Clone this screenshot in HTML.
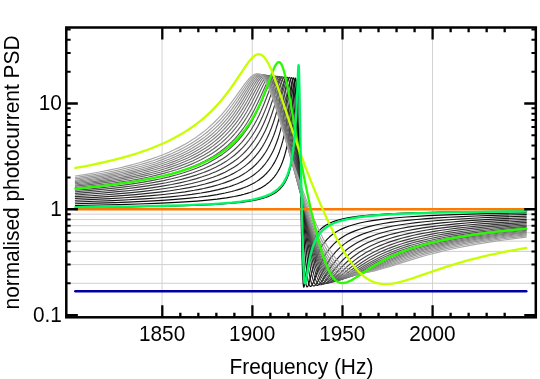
<!DOCTYPE html>
<html><head><meta charset="utf-8"><title>chart</title>
<style>html,body{margin:0;padding:0;background:#fff;}body{width:540px;height:379px;overflow:hidden;font-family:"Liberation Sans",sans-serif;}</style>
</head><body>
<svg width="540" height="379" viewBox="0 0 540 379" style="display:block">
<rect width="540" height="379" fill="#fff"/>
<defs><filter id="soft" x="0" y="0" width="540" height="379" filterUnits="userSpaceOnUse" color-interpolation-filters="sRGB"><feGaussianBlur stdDeviation="0.36"/></filter></defs>
<g filter="url(#soft)">
<rect width="540" height="379" fill="#fff"/>
<line x1="162.05" x2="162.05" y1="27.5" y2="317.3" stroke="#d2d2d2" stroke-width="1"/>
<line x1="252.22" x2="252.22" y1="27.5" y2="317.3" stroke="#d2d2d2" stroke-width="1"/>
<line x1="342.38" x2="342.38" y1="27.5" y2="317.3" stroke="#d2d2d2" stroke-width="1"/>
<line x1="432.55" x2="432.55" y1="27.5" y2="317.3" stroke="#d2d2d2" stroke-width="1"/>
<line x1="66.3" x2="535.8" y1="283.25" y2="283.25" stroke="#cfcfcf" stroke-width="1"/>
<line x1="66.3" x2="535.8" y1="264.62" y2="264.62" stroke="#cfcfcf" stroke-width="1"/>
<line x1="66.3" x2="535.8" y1="251.40" y2="251.40" stroke="#cfcfcf" stroke-width="1"/>
<line x1="66.3" x2="535.8" y1="241.15" y2="241.15" stroke="#cfcfcf" stroke-width="1"/>
<line x1="66.3" x2="535.8" y1="232.77" y2="232.77" stroke="#cfcfcf" stroke-width="1"/>
<line x1="66.3" x2="535.8" y1="225.69" y2="225.69" stroke="#cfcfcf" stroke-width="1"/>
<line x1="66.3" x2="535.8" y1="219.55" y2="219.55" stroke="#cfcfcf" stroke-width="1"/>
<line x1="66.3" x2="535.8" y1="214.14" y2="214.14" stroke="#cfcfcf" stroke-width="1"/>
<g fill="none" stroke-linejoin="round" stroke-linecap="round">
<path d="M75.40,207.41 127.50,206.86 148.88,206.53 167.58,206.14 183.61,205.72 198.31,205.21 211.67,204.60 222.36,203.97 231.71,203.25 240.73,202.34 248.18,201.35 254.74,200.22 257.70,199.59 260.44,198.93 263.07,198.20 265.47,197.44 267.77,196.60 269.85,195.74 271.82,194.80 273.69,193.80 275.33,192.78 276.97,191.62 278.50,190.39 279.93,189.07 281.24,187.69 282.44,186.24 283.54,184.74 284.63,183.04 285.62,181.29 286.60,179.29 287.48,177.26 288.25,175.24 289.01,172.95 289.78,170.34 290.44,167.79 291.09,164.88 292.19,159.02 293.17,152.27 294.05,144.60 294.82,136.06 295.47,126.89 296.02,117.56 297.66,82.21 297.88,79.26 297.99,78.49 298.10,78.31 298.21,78.80 298.32,80.03 298.43,82.01 298.87,96.90 300.84,203.61 301.49,234.88 302.04,256.87 302.48,270.64 302.92,280.22 303.14,283.38 303.36,285.52 303.57,286.73 303.68,287.04 303.79,287.16 303.90,287.13 304.12,286.65 304.56,284.48 307.08,265.36 307.95,259.89 308.94,254.73 310.03,250.02 311.13,246.14 312.44,242.33 313.87,238.98 314.74,237.23 315.62,235.68 316.49,234.28 317.48,232.87 318.46,231.61 319.56,230.36 320.76,229.14 321.97,228.05 323.28,226.98 324.71,225.96 326.13,225.05 327.66,224.17 329.30,223.33 331.06,222.53 334.78,221.11 339.16,219.78 343.97,218.62 349.34,217.60 355.47,216.67 362.37,215.85 370.03,215.12 378.68,214.47 388.48,213.89 399.65,213.37 411.75,212.92 425.72,212.51 441.54,212.15 478.78,211.54 526.25,211.06" stroke="rgb(0,0,0)" stroke-width="1.15"/>
<path d="M75.40,205.46 98.11,205.05 119.49,204.56 138.19,204.02 155.56,203.40 171.59,202.68 184.95,201.93 196.97,201.08 207.66,200.15 217.01,199.13 226.36,197.85 234.38,196.47 240.84,195.08 244.01,194.28 247.08,193.42 249.93,192.52 252.66,191.56 255.18,190.57 257.59,189.52 259.89,188.39 262.08,187.19 264.05,185.99 266.02,184.65 267.77,183.32 269.52,181.84 271.17,180.29 272.70,178.68 274.12,177.02 275.55,175.16 276.86,173.25 278.06,171.30 279.27,169.12 280.36,166.92 281.46,164.47 282.44,162.00 283.43,159.25 284.31,156.54 285.84,151.01 287.26,144.76 288.47,138.37 289.67,130.68 290.76,122.25 291.75,113.25 294.49,83.38 295.03,79.31 295.25,78.41 295.36,78.17 295.47,78.08 295.58,78.14 295.69,78.38 295.91,79.38 296.24,82.25 296.68,88.58 297.12,97.35 297.77,113.58 299.85,171.25 301.06,202.71 302.26,231.20 303.36,253.48 304.23,267.78 304.67,273.48 305.11,278.13 305.55,281.72 305.98,284.29 306.42,285.92 306.64,286.41 306.97,286.81 307.30,286.83 307.52,286.67 307.74,286.38 308.17,285.50 308.72,283.96 309.60,280.88 311.90,271.86 313.21,267.05 314.74,262.06 316.28,257.73 317.81,253.97 319.45,250.50 321.20,247.30 323.17,244.23 324.38,242.58 325.58,241.07 326.79,239.69 328.10,238.31 329.41,237.05 330.84,235.80 332.37,234.57 333.90,233.45 335.54,232.35 337.30,231.28 340.91,229.36 344.85,227.61 349.23,225.99 354.27,224.44 359.74,223.06 365.76,221.79 372.33,220.65 379.56,219.62 387.55,218.67 396.86,217.76 406.17,217.01 416.41,216.32 428.51,215.65 440.61,215.10 454.57,214.56 470.40,214.07 487.15,213.63 526.25,212.86" stroke="rgb(8,8,8)" stroke-width="1.15"/>
<path d="M75.40,203.75 96.78,203.19 115.48,202.59 132.85,201.91 148.88,201.15 162.24,200.37 175.60,199.43 187.62,198.40 198.31,197.27 207.66,196.07 217.01,194.61 225.03,193.06 231.71,191.49 235.15,190.56 238.32,189.61 241.39,188.59 244.23,187.55 246.97,186.44 249.60,185.26 252.12,184.02 254.53,182.70 256.72,181.37 258.80,179.98 260.77,178.53 262.63,177.02 264.38,175.46 266.13,173.74 267.77,171.97 269.31,170.14 270.73,168.28 272.15,166.23 273.47,164.15 274.78,161.87 275.98,159.56 277.19,157.02 278.28,154.47 279.38,151.68 281.13,146.57 282.77,140.93 284.31,134.71 285.73,127.92 287.04,120.60 288.36,112.11 289.56,103.28 291.53,87.69 292.19,83.07 292.63,80.55 292.95,79.12 293.28,78.19 293.50,77.90 293.61,77.86 293.83,78.02 293.94,78.22 294.16,78.88 294.38,79.88 294.71,82.06 295.25,87.39 295.91,96.23 297.01,114.95 299.96,171.61 301.71,203.14 303.47,231.62 305.00,253.05 305.65,260.89 306.31,267.75 306.97,273.55 307.52,277.53 308.17,281.26 308.83,283.90 309.16,284.84 309.49,285.55 309.82,286.03 310.14,286.32 310.36,286.41 310.69,286.41 311.02,286.26 311.35,285.97 312.01,285.07 312.77,283.60 313.98,280.72 317.26,271.90 319.12,267.20 321.09,262.72 323.06,258.76 324.92,255.45 326.79,252.52 328.76,249.76 330.95,247.06 333.68,244.13 336.53,241.52 339.70,239.01 343.10,236.73 346.82,234.58 350.76,232.64 355.03,230.85 359.63,229.20 364.89,227.59 370.58,226.11 376.71,224.77 383.39,223.52 390.34,222.42 398.72,221.30 407.10,220.35 416.41,219.46 426.65,218.63 436.89,217.92 448.99,217.21 462.02,216.56 475.98,215.97 491.81,215.41 526.25,214.45" stroke="rgb(16,16,16)" stroke-width="1.15"/>
<path d="M75.40,201.99 95.44,201.30 112.81,200.58 128.84,199.78 143.53,198.91 156.89,197.96 170.25,196.82 180.94,195.72 191.63,194.41 200.98,193.03 206.32,192.12 210.33,191.36 218.35,189.63 225.03,187.90 229.04,186.71 231.71,185.84 234.60,184.82 237.45,183.72 240.18,182.57 242.81,181.36 245.33,180.09 247.74,178.77 250.04,177.38 252.23,175.95 254.31,174.46 256.28,172.91 258.14,171.33 260.00,169.60 261.75,167.82 263.39,166.00 265.04,164.02 266.57,162.00 267.99,159.95 269.42,157.73 270.73,155.49 272.04,153.05 273.36,150.39 274.56,147.72 276.53,142.81 278.39,137.44 280.14,131.57 281.79,125.22 283.32,118.42 284.85,110.68 286.28,102.65 288.68,88.13 289.67,82.81 290.22,80.42 290.66,78.95 291.09,77.99 291.31,77.74 291.53,77.65 291.75,77.73 291.97,78.01 292.30,78.79 292.63,80.02 293.06,82.38 293.83,88.38 294.60,96.42 295.91,113.41 299.85,170.67 302.15,202.07 304.45,230.45 305.55,242.58 306.53,252.50 307.41,260.40 308.17,266.51 309.05,272.47 309.82,276.76 310.58,280.16 311.46,283.01 311.90,284.04 312.33,284.83 312.77,285.39 313.21,285.75 313.54,285.89 313.87,285.93 314.19,285.88 314.63,285.69 315.07,285.38 315.51,284.95 316.38,283.82 317.26,282.41 318.36,280.41 322.52,272.02 324.49,268.22 326.35,264.88 328.21,261.81 330.62,258.22 333.03,255.03 335.65,251.94 338.39,249.11 341.35,246.43 344.52,243.90 347.92,241.54 351.53,239.35 355.36,237.32 359.52,235.39 364.01,233.59 368.72,231.94 374.19,230.28 380.00,228.77 386.35,227.34 393.14,226.02 400.58,224.78 408.03,223.70 416.41,222.66 424.78,221.75 435.02,220.79 445.26,219.97 456.43,219.20 468.54,218.47 481.57,217.80 495.53,217.18 526.25,216.08" stroke="rgb(24,24,24)" stroke-width="1.15"/>
<path d="M75.40,200.21 94.10,199.41 110.14,198.60 124.83,197.72 139.53,196.69 151.55,195.69 163.57,194.52 174.26,193.28 184.95,191.82 194.30,190.30 199.64,189.31 203.65,188.49 211.67,186.63 218.35,184.81 222.36,183.56 225.03,182.66 230.37,180.64 233.04,179.52 236.24,178.05 238.98,176.67 241.61,175.22 243.91,173.85 246.20,172.36 248.28,170.90 250.36,169.32 252.34,167.70 254.20,166.04 256.06,164.25 257.81,162.42 259.56,160.44 261.20,158.43 262.74,156.39 264.27,154.19 265.69,151.98 267.12,149.59 268.43,147.21 269.74,144.63 271.82,140.09 273.79,135.20 275.66,129.95 277.52,123.98 279.38,117.19 281.13,109.96 282.77,102.47 285.84,87.59 286.93,82.83 287.59,80.46 288.25,78.66 288.79,77.73 289.12,77.47 289.34,77.43 289.67,77.59 289.89,77.85 290.33,78.76 290.76,80.19 291.20,82.14 291.64,84.62 292.19,88.38 293.17,96.78 294.82,113.99 299.52,169.01 302.37,200.33 303.79,214.92 305.22,228.67 306.53,240.44 307.74,250.32 308.83,258.41 309.82,264.85 310.91,271.00 311.90,275.57 312.88,279.20 313.87,281.93 314.41,283.07 314.96,283.96 315.51,284.62 316.06,285.06 316.49,285.28 317.04,285.38 317.48,285.35 318.03,285.17 318.57,284.87 319.12,284.46 320.33,283.22 321.53,281.67 322.84,279.74 327.88,271.67 330.18,268.13 332.26,265.13 334.34,262.35 336.97,259.12 339.70,256.10 342.55,253.28 345.62,250.56 348.79,248.06 352.19,245.68 355.69,243.50 359.41,241.44 363.35,239.51 367.62,237.65 372.11,235.92 376.82,234.32 381.97,232.77 387.55,231.29 394.07,229.77 400.58,228.45 408.03,227.13 415.48,225.97 423.85,224.84 432.23,223.85 441.54,222.88 451.78,221.95 462.02,221.14 473.19,220.37 485.29,219.63 498.32,218.94 526.25,217.72" stroke="rgb(32,32,32)" stroke-width="1.15"/>
<path d="M75.40,198.43 91.43,197.62 107.46,196.67 122.16,195.65 135.52,194.57 147.54,193.44 159.57,192.11 170.25,190.72 179.61,189.30 188.96,187.64 196.97,185.98 204.99,184.04 211.67,182.16 218.35,179.97 222.36,178.48 225.03,177.39 227.70,176.23 230.37,174.98 233.04,173.63 235.91,172.05 238.32,170.62 240.62,169.15 242.81,167.63 244.89,166.09 246.97,164.42 248.94,162.72 250.80,160.99 252.66,159.14 254.42,157.25 256.17,155.22 257.81,153.17 259.34,151.12 260.88,148.91 262.30,146.71 263.72,144.34 265.15,141.80 267.34,137.50 269.42,132.90 271.39,128.01 273.36,122.52 275.44,116.01 277.41,109.10 279.27,101.93 282.77,87.64 284.20,82.44 284.96,80.15 285.73,78.42 286.06,77.88 286.39,77.50 286.71,77.27 287.04,77.22 287.37,77.35 287.59,77.54 288.14,78.42 288.68,79.87 289.23,81.90 289.78,84.49 290.33,87.61 291.53,96.09 292.41,103.35 293.50,113.29 299.09,167.87 302.48,199.13 304.23,214.16 305.87,227.42 307.41,238.95 308.94,249.49 310.25,257.60 311.46,264.18 312.66,269.87 313.87,274.60 315.07,278.37 315.62,279.77 316.28,281.20 316.82,282.19 317.48,283.15 318.14,283.87 318.79,284.37 319.34,284.63 320.00,284.78 320.54,284.78 321.20,284.64 321.86,284.37 322.63,283.90 323.39,283.31 324.16,282.61 325.47,281.21 327.11,279.23 333.03,271.40 335.65,268.05 337.95,265.28 340.14,262.81 343.10,259.73 346.16,256.82 349.23,254.20 352.51,251.65 355.80,249.36 359.30,247.16 363.03,245.05 366.86,243.10 370.91,241.25 375.07,239.54 379.56,237.89 384.27,236.33 389.41,234.81 395.00,233.33 401.51,231.81 408.03,230.46 415.48,229.10 422.92,227.90 430.37,226.84 438.75,225.78 447.13,224.83 456.43,223.90 466.67,222.99 476.91,222.19 488.08,221.41 500.19,220.67 513.22,219.96 526.25,219.33" stroke="rgb(40,40,40)" stroke-width="1.15"/>
<path d="M75.40,196.67 91.43,195.73 106.13,194.73 119.49,193.68 131.51,192.59 143.53,191.33 154.22,190.04 164.91,188.54 174.26,187.02 183.61,185.26 191.63,183.50 199.64,181.47 206.32,179.51 213.00,177.25 217.01,175.72 219.68,174.61 225.03,172.17 227.70,170.81 230.37,169.35 233.04,167.77 235.15,166.45 237.34,164.97 239.53,163.38 241.61,161.77 243.69,160.04 245.66,158.29 247.52,156.51 249.38,154.61 251.13,152.69 252.88,150.63 254.53,148.57 256.17,146.35 257.70,144.14 259.23,141.78 260.66,139.43 262.96,135.28 265.15,130.89 267.23,126.25 269.20,121.37 271.50,115.05 273.69,108.34 275.77,101.37 279.71,87.47 281.24,82.60 282.23,80.01 283.10,78.27 283.54,77.65 283.87,77.31 284.31,77.05 284.63,77.00 284.96,77.09 285.29,77.32 285.62,77.70 285.95,78.23 286.50,79.46 287.15,81.51 287.81,84.16 288.47,87.38 289.12,91.12 289.89,96.04 290.98,103.91 292.19,113.38 298.65,167.79 302.48,198.18 304.45,212.75 306.42,226.48 308.17,237.83 309.92,248.23 311.46,256.41 312.88,263.15 314.30,268.96 315.62,273.47 316.93,277.13 317.59,278.64 318.36,280.16 319.01,281.24 319.78,282.27 320.54,283.05 321.31,283.62 321.97,283.94 322.73,284.13 323.50,284.16 324.27,284.04 325.03,283.79 325.91,283.35 326.79,282.79 327.77,282.04 329.19,280.76 330.84,279.10 340.14,268.72 342.99,265.74 345.84,262.96 349.12,259.99 352.41,257.27 355.80,254.72 359.30,252.32 362.70,250.20 366.31,248.15 370.03,246.23 373.86,244.43 377.92,242.70 382.19,241.04 386.67,239.46 391.27,237.99 396.86,236.38 402.44,234.94 408.03,233.64 414.55,232.27 421.06,231.05 428.51,229.80 435.96,228.68 444.33,227.56 452.71,226.56 461.09,225.65 470.40,224.75 480.64,223.87 490.88,223.08 502.05,222.31 526.25,220.89" stroke="rgb(48,48,48)" stroke-width="1.15"/>
<path d="M75.40,194.97 90.10,193.99 104.79,192.87 118.15,191.69 130.17,190.47 142.20,189.06 152.89,187.61 162.24,186.16 171.59,184.50 179.61,182.86 187.62,181.00 195.64,178.85 202.32,176.78 209.00,174.42 213.00,172.82 215.68,171.67 221.02,169.15 223.69,167.76 226.36,166.26 230.37,163.81 233.04,162.01 235.37,160.33 237.45,158.72 239.42,157.09 241.39,155.36 243.25,153.61 245.11,151.76 246.86,149.89 248.61,147.91 250.26,145.92 253.43,141.71 254.96,139.48 256.50,137.11 258.80,133.24 260.98,129.19 263.17,124.72 265.25,120.06 267.66,114.09 270.07,107.49 272.26,100.97 276.53,87.63 278.39,82.38 279.49,79.83 280.47,78.09 280.91,77.52 281.35,77.11 281.79,76.86 282.23,76.79 282.66,76.90 282.99,77.12 283.65,77.91 284.31,79.17 285.07,81.26 285.73,83.56 286.50,86.82 287.26,90.62 288.14,95.55 289.34,103.15 290.76,113.00 297.99,166.67 300.18,182.29 302.37,197.29 304.67,212.26 306.86,225.67 308.83,236.91 310.80,247.22 312.44,254.98 314.09,261.89 315.73,267.86 317.26,272.54 318.03,274.54 318.79,276.33 319.56,277.89 320.33,279.24 321.09,280.39 321.97,281.46 322.73,282.19 323.61,282.82 324.38,283.20 325.25,283.45 326.13,283.52 327.00,283.44 327.99,283.18 328.98,282.78 330.07,282.19 331.17,281.46 332.81,280.19 334.78,278.46 345.18,268.37 348.24,265.57 351.31,262.94 354.81,260.14 358.32,257.57 361.93,255.14 365.65,252.84 369.05,250.92 372.66,249.04 376.27,247.31 380.10,245.62 384.16,243.98 388.48,242.38 392.20,241.11 396.86,239.65 402.44,238.06 408.03,236.62 413.61,235.31 420.13,233.93 426.65,232.69 434.09,231.41 441.54,230.26 448.99,229.22 457.37,228.16 465.74,227.21 474.12,226.34 483.43,225.47 493.67,224.61 503.91,223.83 526.25,222.38" stroke="rgb(56,56,56)" stroke-width="1.15"/>
<path d="M75.40,193.32 88.76,192.34 102.12,191.22 114.14,190.07 126.17,188.76 136.85,187.44 147.54,185.93 156.89,184.42 166.25,182.70 174.26,181.02 182.28,179.11 190.29,176.92 196.97,174.83 203.65,172.45 207.66,170.86 210.33,169.72 215.68,167.22 218.35,165.85 221.02,164.39 223.69,162.82 226.36,161.15 230.37,158.39 234.49,155.21 238.43,151.78 242.15,148.13 244.01,146.12 245.77,144.11 249.05,140.00 252.23,135.52 255.07,131.02 257.81,126.18 260.44,121.02 262.96,115.53 264.82,111.12 266.79,106.11 268.98,100.19 273.69,86.95 275.00,83.54 276.09,81.02 277.08,79.11 278.06,77.65 278.50,77.19 278.94,76.84 279.38,76.63 279.82,76.57 280.25,76.66 280.69,76.91 281.13,77.32 281.46,77.75 282.23,79.12 282.99,81.02 283.76,83.44 284.63,86.81 285.51,90.76 286.39,95.20 287.70,102.64 289.23,112.13 297.33,166.12 299.85,182.24 302.15,196.35 304.67,211.07 307.08,224.33 309.38,236.10 311.46,245.87 313.32,253.80 315.07,260.46 316.82,266.27 318.57,271.19 319.45,273.30 320.33,275.18 321.20,276.84 322.08,278.27 322.95,279.48 323.83,280.49 324.71,281.30 325.69,281.99 326.57,282.42 327.55,282.72 328.54,282.84 329.63,282.78 330.73,282.56 331.82,282.18 333.03,281.62 334.34,280.87 336.31,279.53 338.50,277.82 350.00,267.96 353.39,265.21 356.68,262.70 360.40,260.05 364.23,257.53 368.06,255.21 372.11,252.96 375.62,251.16 379.12,249.49 382.84,247.85 386.67,246.28 390.34,244.89 395.00,243.26 398.72,242.05 403.37,240.66 408.96,239.12 414.55,237.73 420.13,236.45 426.65,235.09 433.16,233.86 439.68,232.74 446.19,231.71 453.64,230.64 461.09,229.66 469.47,228.66 486.22,226.92 504.84,225.31 526.25,223.78" stroke="rgb(64,64,64)" stroke-width="1.15"/>
<path d="M75.40,191.74 88.76,190.66 102.12,189.42 114.14,188.16 124.83,186.89 135.52,185.45 144.87,184.03 154.22,182.42 163.57,180.59 171.59,178.81 179.61,176.79 186.29,174.89 192.97,172.75 199.64,170.32 203.65,168.70 206.32,167.54 211.67,165.01 217.01,162.16 219.68,160.60 222.36,158.92 226.36,156.18 230.37,153.14 234.38,149.72 238.10,146.16 241.72,142.29 245.11,138.22 248.28,133.95 251.24,129.53 253.98,124.99 256.72,119.97 259.34,114.66 261.31,110.34 263.39,105.47 265.69,99.77 270.73,86.81 272.15,83.43 273.36,80.88 274.45,78.93 275.55,77.44 276.09,76.92 276.53,76.62 277.08,76.40 277.52,76.36 277.96,76.45 278.39,76.67 278.83,77.03 279.27,77.53 280.14,78.98 281.02,81.00 281.90,83.58 282.77,86.69 283.76,90.77 284.74,95.36 286.17,102.75 287.81,112.04 296.57,165.23 299.20,180.57 301.71,194.69 304.45,209.30 307.08,222.52 309.60,234.31 311.90,244.21 313.87,251.93 315.84,258.85 317.81,264.90 319.67,269.75 320.54,271.74 321.53,273.75 322.52,275.53 323.50,277.07 324.49,278.38 325.47,279.47 326.46,280.36 327.44,281.05 328.43,281.56 329.41,281.91 330.40,282.09 331.49,282.14 332.59,282.03 333.79,281.76 335.00,281.35 336.31,280.77 338.83,279.35 341.79,277.34 344.63,275.20 353.94,267.98 357.11,265.64 360.18,263.48 363.24,261.44 366.31,259.50 369.48,257.61 372.66,255.84 376.60,253.78 380.76,251.78 385.03,249.88 389.41,248.09 394.07,246.34 398.72,244.73 403.37,243.24 408.03,241.87 413.61,240.36 419.20,238.98 424.78,237.71 430.37,236.53 436.89,235.28 443.40,234.13 449.92,233.08 457.37,231.98 464.81,230.97 472.26,230.04 480.64,229.09 489.02,228.22 506.70,226.60 526.25,225.10" stroke="rgb(72,72,72)" stroke-width="1.15"/>
<path d="M75.40,190.24 88.76,189.06 100.78,187.86 112.81,186.50 123.49,185.14 134.18,183.59 143.53,182.07 152.89,180.35 160.90,178.69 168.92,176.82 176.93,174.70 183.61,172.72 190.29,170.49 196.97,167.96 202.32,165.69 207.66,163.16 213.00,160.32 215.68,158.76 218.35,157.10 222.36,154.40 226.36,151.40 230.37,148.07 234.38,144.34 237.77,140.82 241.17,136.91 244.45,132.70 247.52,128.35 250.36,123.88 253.10,119.16 255.84,113.98 257.92,109.73 260.11,104.97 262.52,99.42 267.88,86.64 269.31,83.50 270.62,80.89 271.93,78.70 272.59,77.82 273.14,77.20 273.69,76.72 274.23,76.37 274.78,76.18 275.33,76.15 275.87,76.29 276.31,76.54 276.75,76.90 277.19,77.38 278.06,78.72 279.05,80.82 279.93,83.20 280.91,86.41 281.90,90.15 282.99,94.82 284.52,102.12 286.39,111.83 295.80,164.57 298.65,179.88 301.39,194.02 304.34,208.55 307.19,221.73 309.82,233.07 312.33,243.07 314.52,250.98 316.60,257.72 318.68,263.64 319.78,266.41 320.76,268.69 321.75,270.77 322.84,272.84 323.83,274.50 324.92,276.10 325.91,277.35 327.00,278.51 328.10,279.46 329.19,280.20 330.29,280.76 331.38,281.14 332.59,281.37 333.79,281.42 335.00,281.32 336.31,281.06 337.73,280.62 339.16,280.04 341.89,278.64 345.18,276.60 348.24,274.51 358.10,267.57 361.49,265.30 364.67,263.26 367.84,261.32 371.02,259.47 374.19,257.73 377.48,256.03 381.53,254.06 385.58,252.23 389.41,250.62 394.07,248.80 398.72,247.12 403.37,245.57 408.03,244.13 413.61,242.54 419.20,241.08 424.78,239.74 430.37,238.50 435.96,237.36 441.54,236.29 448.06,235.15 461.09,233.12 475.05,231.25 490.88,229.46 507.63,227.84 526.25,226.32" stroke="rgb(80,80,80)" stroke-width="1.15"/>
<path d="M75.40,188.82 88.76,187.54 100.78,186.25 111.47,184.96 122.16,183.50 131.51,182.08 140.86,180.49 150.21,178.69 158.23,176.96 166.25,175.02 174.26,172.83 180.94,170.78 187.62,168.48 194.30,165.88 199.64,163.55 204.99,160.96 210.33,158.05 213.00,156.47 215.68,154.78 219.68,152.04 223.69,149.01 227.70,145.66 231.71,141.92 234.71,138.83 237.99,135.12 241.17,131.17 244.23,126.97 247.19,122.52 250.04,117.82 252.77,112.89 254.85,108.86 256.93,104.61 259.45,99.18 265.15,86.50 266.79,83.12 268.10,80.69 269.52,78.47 270.18,77.64 270.84,76.96 271.50,76.43 272.04,76.13 272.59,75.96 273.14,75.94 273.69,76.06 274.12,76.27 274.67,76.68 275.11,77.13 276.09,78.53 277.08,80.48 278.06,82.96 279.16,86.30 280.25,90.19 281.35,94.56 282.99,101.85 284.96,111.43 294.93,163.41 297.99,178.78 300.84,192.49 304.01,207.05 306.97,219.82 309.82,231.31 312.55,241.49 314.96,249.62 317.26,256.59 319.45,262.42 320.54,265.03 321.64,267.43 322.73,269.61 323.83,271.58 324.92,273.33 326.02,274.88 327.11,276.22 328.32,277.47 329.41,278.41 330.62,279.23 331.82,279.86 333.14,280.33 334.45,280.60 335.76,280.68 337.19,280.60 338.61,280.35 340.14,279.93 341.79,279.32 344.74,277.94 348.24,275.95 351.64,273.84 362.15,267.06 368.94,262.96 375.40,259.40 381.86,256.19 386.02,254.29 390.34,252.45 394.07,250.97 398.72,249.24 403.37,247.64 408.03,246.15 412.68,244.77 418.27,243.23 422.92,242.03 428.51,240.71 434.09,239.48 439.68,238.33 445.26,237.27 451.78,236.12 464.81,234.07 478.78,232.19 493.67,230.46 509.49,228.88 526.25,227.44" stroke="rgb(88,88,88)" stroke-width="1.15"/>
<path d="M75.40,187.47 87.42,186.25 98.11,185.04 108.80,183.70 119.49,182.19 128.84,180.71 138.19,179.06 147.54,177.21 155.56,175.42 163.57,173.42 170.25,171.56 176.93,169.50 183.61,167.19 190.29,164.60 195.64,162.29 200.98,159.72 206.32,156.86 209.00,155.30 211.67,153.65 215.68,150.97 219.68,148.03 223.69,144.79 227.70,141.19 230.37,138.57 234.38,134.25 237.66,130.33 240.73,126.32 243.80,121.92 246.75,117.28 249.60,112.42 251.79,108.41 253.98,104.17 256.61,98.82 262.52,86.40 264.27,82.99 265.69,80.51 267.23,78.26 267.88,77.47 268.54,76.81 269.20,76.30 269.85,75.93 270.51,75.74 271.06,75.72 271.61,75.83 272.15,76.08 272.70,76.48 273.25,77.02 274.23,78.37 275.33,80.43 276.42,83.08 277.52,86.26 278.61,89.93 279.82,94.46 281.57,101.79 283.65,111.29 294.16,162.79 297.33,177.74 300.40,191.60 303.68,205.74 306.86,218.63 309.92,230.24 312.77,240.18 315.29,248.19 317.70,255.09 320.11,261.16 321.31,263.88 322.41,266.15 323.50,268.24 324.71,270.32 325.91,272.17 327.11,273.80 328.32,275.22 329.52,276.43 330.73,277.44 331.93,278.26 333.25,278.95 334.67,279.47 336.09,279.79 337.62,279.92 339.16,279.86 340.80,279.61 342.55,279.17 344.41,278.54 347.59,277.15 351.31,275.20 354.92,273.12 365.98,266.54 372.99,262.62 379.45,259.31 386.02,256.24 390.34,254.39 394.07,252.88 398.72,251.12 403.37,249.48 408.03,247.96 412.68,246.53 417.34,245.20 422.92,243.71 427.58,242.56 433.16,241.27 443.40,239.13 455.50,236.93 467.61,235.01 480.64,233.22 494.60,231.55 509.49,230.00 526.25,228.48" stroke="rgb(96,96,96)" stroke-width="1.15"/>
<path d="M75.40,186.19 87.42,184.89 98.11,183.61 108.80,182.18 118.15,180.79 127.50,179.24 136.85,177.52 144.87,175.87 152.89,174.04 160.90,171.99 167.58,170.09 174.26,167.98 180.94,165.63 187.62,163.00 192.97,160.66 198.31,158.06 203.65,155.17 209.00,151.95 213.00,149.27 217.01,146.33 221.02,143.09 225.03,139.52 227.70,136.92 231.71,132.67 234.71,129.17 237.77,125.27 240.84,121.03 243.80,116.57 246.75,111.74 249.27,107.32 251.90,102.42 260.55,85.31 262.08,82.52 263.39,80.36 265.04,78.06 265.80,77.20 266.46,76.58 267.23,76.02 267.88,75.70 268.54,75.53 269.20,75.52 269.74,75.64 270.29,75.89 270.84,76.27 271.39,76.79 271.93,77.43 272.48,78.21 273.58,80.17 274.67,82.65 275.87,85.93 277.08,89.75 278.28,94.03 280.14,101.37 282.33,110.83 293.39,162.03 296.79,177.13 299.96,190.68 303.47,204.92 306.75,217.51 309.92,228.88 312.99,239.00 315.62,246.90 318.25,254.02 320.76,260.04 321.97,262.61 323.17,265.00 324.38,267.18 325.58,269.17 326.79,270.95 328.10,272.67 329.30,274.05 330.62,275.35 331.93,276.43 333.25,277.31 334.67,278.05 336.20,278.62 337.73,278.97 339.38,279.14 341.13,279.10 342.88,278.87 344.74,278.44 346.82,277.79 350.22,276.42 354.27,274.45 358.10,272.40 369.70,265.99 377.15,262.12 383.72,258.98 390.34,256.09 394.07,254.57 398.72,252.79 403.37,251.13 408.03,249.58 412.68,248.12 417.34,246.76 421.99,245.48 427.58,244.05 437.82,241.68 448.06,239.59 459.23,237.59 470.40,235.83 483.43,234.02 496.46,232.43 510.43,230.93 526.25,229.45" stroke="rgb(104,104,104)" stroke-width="1.15"/>
<path d="M75.40,184.96 86.09,183.75 96.78,182.41 107.46,180.92 116.81,179.48 126.17,177.87 135.52,176.07 143.53,174.36 151.55,172.45 158.23,170.70 164.91,168.77 171.59,166.63 178.27,164.25 184.95,161.59 190.29,159.23 195.64,156.62 200.98,153.72 204.99,151.33 209.00,148.73 213.00,145.90 217.01,142.79 221.02,139.37 225.03,135.59 229.04,131.41 231.71,128.37 234.93,124.41 237.99,120.31 241.06,115.86 244.01,111.21 246.64,106.79 249.27,102.10 258.25,85.16 259.78,82.49 261.20,80.24 262.08,78.99 262.96,77.89 263.72,77.06 264.49,76.36 265.25,75.83 265.91,75.51 266.68,75.31 267.34,75.30 267.99,75.45 268.54,75.70 269.09,76.07 269.63,76.55 270.73,77.89 271.93,79.91 273.14,82.51 274.34,85.64 275.55,89.25 276.86,93.67 278.83,101.05 281.13,110.47 292.74,161.52 296.24,176.31 299.52,189.63 303.14,203.58 306.64,216.34 310.03,227.87 313.21,237.81 315.95,245.64 318.68,252.70 320.00,255.80 321.31,258.70 322.63,261.39 323.94,263.88 325.14,265.97 326.46,268.05 327.77,269.91 329.08,271.57 330.40,273.03 331.71,274.28 333.03,275.35 334.45,276.30 335.98,277.11 337.62,277.73 339.38,278.15 341.13,278.34 342.99,278.32 344.96,278.09 347.04,277.66 349.23,277.02 352.84,275.66 357.11,273.72 361.16,271.70 373.32,265.45 380.98,261.72 387.55,258.77 394.07,256.08 397.79,254.64 402.44,252.94 407.10,251.35 411.75,249.86 416.41,248.45 421.99,246.88 426.65,245.65 432.23,244.27 441.54,242.18 451.78,240.13 462.95,238.15 474.12,236.40 486.22,234.72 498.32,233.23 512.29,231.70 526.25,230.35" stroke="rgb(112,112,112)" stroke-width="1.15"/>
<path d="M75.40,183.77 86.09,182.50 96.78,181.10 106.13,179.73 115.48,178.23 124.83,176.57 132.85,174.99 140.86,173.24 148.88,171.31 155.56,169.53 162.24,167.57 168.92,165.41 175.60,163.01 182.28,160.34 187.62,157.96 192.97,155.35 198.31,152.45 202.32,150.07 206.32,147.49 210.33,144.67 214.34,141.60 218.35,138.22 222.36,134.51 226.36,130.42 229.04,127.46 231.71,124.28 235.37,119.57 238.43,115.26 241.50,110.61 244.12,106.36 246.86,101.67 256.06,85.04 257.70,82.30 259.12,80.14 260.11,78.79 260.98,77.73 261.86,76.82 262.63,76.16 263.39,75.64 264.16,75.28 264.93,75.10 265.58,75.09 266.24,75.22 266.79,75.44 267.44,75.85 267.99,76.31 268.65,77.01 269.20,77.71 270.40,79.65 271.61,82.11 272.92,85.35 274.23,89.11 275.55,93.33 277.63,100.75 279.93,109.73 292.08,160.68 295.69,175.23 299.20,188.77 303.03,202.86 306.64,215.37 310.14,226.70 313.43,236.51 316.28,244.28 319.12,251.31 320.54,254.53 321.86,257.31 323.28,260.11 324.60,262.50 326.02,264.88 327.33,266.88 328.65,268.69 330.07,270.43 331.38,271.85 332.81,273.19 334.23,274.32 335.65,275.27 337.41,276.18 339.16,276.84 341.02,277.29 342.88,277.51 344.85,277.53 346.93,277.33 349.23,276.89 351.64,276.24 355.03,275.06 358.86,273.48 363.79,271.22 376.60,265.05 382.51,262.33 390.34,258.95 397.79,256.02 402.44,254.32 407.10,252.71 411.75,251.20 416.41,249.78 425.72,247.18 435.96,244.65 445.26,242.60 454.57,240.76 464.81,238.95 475.98,237.18 488.08,235.48 500.19,233.97 513.22,232.51 526.25,231.22" stroke="rgb(120,120,120)" stroke-width="1.15"/>
<path d="M75.40,182.60 86.09,181.27 96.78,179.80 106.13,178.37 115.48,176.80 124.83,175.05 132.85,173.39 140.86,171.56 147.54,169.89 154.22,168.06 160.90,166.05 167.58,163.82 174.26,161.36 179.61,159.19 184.95,156.82 190.29,154.20 195.64,151.32 199.64,148.96 203.65,146.39 207.66,143.61 211.67,140.58 215.68,137.26 219.68,133.62 223.69,129.63 226.36,126.74 230.37,122.04 233.04,118.63 236.13,114.42 239.09,110.08 241.83,105.80 244.56,101.29 253.98,84.94 255.73,82.13 257.26,79.89 258.25,78.61 259.12,77.58 260.00,76.70 260.88,75.96 261.75,75.40 262.52,75.06 263.28,74.89 264.05,74.88 264.71,75.02 265.36,75.29 266.02,75.71 266.57,76.17 267.23,76.85 267.77,77.53 269.09,79.58 270.40,82.20 271.71,85.34 273.03,88.95 274.45,93.34 276.53,100.46 278.94,109.45 291.53,159.90 295.25,174.22 298.87,187.57 302.81,201.42 306.53,213.76 310.14,224.96 313.65,234.98 316.71,243.00 319.67,249.99 321.20,253.31 322.63,256.19 324.05,258.88 325.47,261.36 326.90,263.65 328.32,265.74 329.74,267.62 331.17,269.31 332.59,270.80 334.01,272.10 335.43,273.22 336.97,274.23 338.83,275.20 340.69,275.91 342.66,276.41 344.74,276.68 346.82,276.71 349.12,276.52 351.53,276.11 354.16,275.45 357.77,274.28 361.93,272.67 367.19,270.41 380.54,264.38 386.67,261.74 395.00,258.37 402.44,255.62 407.10,254.01 411.75,252.49 421.06,249.71 425.72,248.43 431.30,246.99 441.54,244.57 450.85,242.62 460.16,240.85 469.47,239.25 479.71,237.65 490.88,236.09 502.05,234.68 514.15,233.31 526.25,232.07" stroke="rgb(128,128,128)" stroke-width="1.15"/>
<path d="M75.40,181.42 86.09,180.03 95.44,178.70 104.79,177.23 114.14,175.60 123.49,173.80 131.51,172.10 139.53,170.22 146.21,168.50 152.89,166.62 159.57,164.55 166.25,162.28 172.93,159.76 178.27,157.54 183.61,155.11 188.96,152.45 194.30,149.51 198.31,147.11 202.32,144.50 206.32,141.68 210.33,138.61 214.34,135.26 217.01,132.85 221.02,128.95 223.69,126.15 227.70,121.59 230.37,118.31 233.04,114.81 236.68,109.70 239.42,105.59 242.26,101.07 252.01,84.82 253.87,81.95 255.40,79.79 256.39,78.54 257.37,77.42 258.36,76.46 259.23,75.76 260.11,75.21 260.98,74.84 261.86,74.66 262.63,74.68 263.28,74.82 263.94,75.09 264.60,75.49 265.25,76.02 266.46,77.35 267.77,79.31 269.09,81.79 270.40,84.76 271.82,88.47 273.36,92.98 275.55,100.14 278.06,109.13 280.58,118.63 287.48,145.33 291.09,159.07 294.93,173.18 298.65,186.34 302.70,199.97 306.64,212.47 310.36,223.51 313.98,233.42 317.15,241.40 320.22,248.37 321.75,251.58 323.28,254.58 324.81,257.39 326.24,259.80 327.77,262.20 329.19,264.24 330.62,266.09 332.15,267.89 333.68,269.48 335.22,270.87 336.75,272.07 338.28,273.08 340.03,274.03 341.89,274.80 343.87,275.37 345.84,275.72 347.92,275.88 350.00,275.84 352.30,275.60 354.70,275.17 356.89,274.65 359.30,273.95 361.93,273.08 364.78,272.03 370.03,269.92 382.84,264.50 389.41,261.81 396.86,258.92 403.37,256.56 410.82,254.07 418.27,251.78 425.72,249.67 434.09,247.51 443.40,245.34 453.64,243.20 463.88,241.28 475.05,239.40 487.15,237.59 499.25,235.97 512.29,234.42 526.25,232.93" stroke="rgb(136,136,136)" stroke-width="1.15"/>
<path d="M75.40,180.21 86.09,178.76 95.44,177.36 104.79,175.83 112.81,174.39 120.82,172.81 128.84,171.09 136.85,169.19 143.53,167.45 150.21,165.56 156.89,163.49 163.57,161.21 170.25,158.68 175.60,156.47 180.94,154.05 186.29,151.40 191.63,148.49 195.64,146.12 199.64,143.55 203.65,140.77 207.66,137.75 211.67,134.47 214.34,132.13 218.35,128.33 221.02,125.61 225.03,121.21 227.70,118.04 231.71,112.92 234.38,109.25 237.23,105.12 240.18,100.61 250.15,84.63 252.12,81.71 253.76,79.50 254.85,78.18 255.84,77.13 256.82,76.21 257.70,75.54 258.58,75.02 259.45,74.65 260.33,74.46 261.20,74.46 261.97,74.62 262.63,74.89 263.28,75.27 263.94,75.78 264.60,76.41 265.25,77.17 266.57,79.05 267.88,81.40 269.31,84.46 270.84,88.29 272.37,92.60 274.67,99.79 277.30,108.76 279.93,118.24 287.04,144.59 290.76,158.13 294.82,172.40 298.65,185.35 302.92,199.07 306.97,211.35 310.91,222.50 314.63,232.25 317.92,240.14 319.56,243.80 321.20,247.28 322.84,250.56 324.38,253.43 325.91,256.12 327.44,258.61 328.98,260.92 330.51,263.04 332.04,264.96 333.57,266.70 335.11,268.25 336.75,269.71 338.28,270.89 339.92,271.97 341.89,273.02 343.87,273.83 345.95,274.44 348.14,274.84 350.32,275.02 352.73,274.99 355.25,274.74 357.99,274.27 360.29,273.74 362.81,273.05 365.54,272.19 368.50,271.17 373.97,269.11 387.22,263.86 394.07,261.22 401.51,258.51 408.03,256.29 415.48,253.92 422.92,251.74 430.37,249.72 437.82,247.87 447.13,245.75 457.37,243.65 467.61,241.76 477.84,240.05 489.02,238.37 501.12,236.73 513.22,235.26 526.25,233.83" stroke="rgb(144,144,144)" stroke-width="1.15"/>
<path d="M75.40,178.93 84.75,177.61 94.10,176.17 103.46,174.59 111.47,173.11 119.49,171.49 127.50,169.72 135.52,167.77 142.20,166.00 148.88,164.06 155.56,161.94 162.24,159.61 167.58,157.57 172.93,155.36 178.27,152.95 183.61,150.32 188.96,147.44 192.97,145.09 196.97,142.56 200.98,139.83 204.99,136.87 209.00,133.66 211.67,131.38 215.68,127.69 218.35,125.05 222.36,120.79 225.03,117.74 229.04,112.83 231.71,109.32 234.71,105.15 237.77,100.67 248.39,84.35 250.36,81.55 252.12,79.29 253.21,78.02 254.31,76.89 255.40,75.93 256.39,75.23 257.37,74.69 258.25,74.38 259.12,74.23 260.00,74.26 260.77,74.43 261.42,74.70 262.19,75.15 262.85,75.65 264.16,77.01 265.58,78.98 267.01,81.47 268.43,84.43 269.96,88.11 271.61,92.53 273.90,99.40 276.64,108.33 279.49,118.14 286.82,144.08 290.66,157.39 294.82,171.38 298.76,184.10 303.14,197.56 307.30,209.61 311.35,220.60 315.29,230.50 318.68,238.32 322.08,245.44 323.72,248.61 325.36,251.59 327.00,254.38 328.65,256.98 330.29,259.39 331.82,261.45 333.46,263.47 335.11,265.29 336.75,266.93 338.39,268.37 340.03,269.63 341.79,270.78 343.97,271.95 346.16,272.84 348.46,273.52 350.76,273.94 353.28,274.15 355.91,274.12 358.65,273.87 361.60,273.39 364.12,272.84 366.75,272.15 369.59,271.31 372.77,270.28 378.46,268.27 392.20,263.18 398.72,260.83 406.17,258.28 412.68,256.17 419.20,254.19 426.65,252.08 434.09,250.13 441.54,248.32 450.85,246.25 460.16,244.36 469.47,242.64 479.71,240.92 490.88,239.22 502.05,237.68 514.15,236.17 526.25,234.81" stroke="rgb(152,152,152)" stroke-width="1.15"/>
<path d="M75.40,177.54 84.75,176.16 94.10,174.66 102.12,173.25 110.14,171.73 118.15,170.07 124.83,168.56 132.85,166.60 139.53,164.81 146.21,162.86 152.89,160.73 159.57,158.39 164.91,156.35 170.25,154.15 175.60,151.75 180.94,149.14 186.29,146.29 190.29,143.96 194.30,141.47 198.31,138.79 202.32,135.89 206.32,132.76 209.00,130.52 213.00,126.94 215.68,124.39 219.68,120.27 222.36,117.34 226.36,112.62 229.04,109.27 231.71,105.74 235.47,100.49 246.53,84.23 248.61,81.40 250.47,79.10 251.68,77.77 252.88,76.59 253.98,75.68 254.96,75.01 255.95,74.50 256.93,74.16 257.92,74.02 258.80,74.05 259.56,74.22 260.33,74.53 261.09,74.97 261.75,75.46 262.41,76.06 263.17,76.88 264.60,78.78 266.02,81.14 267.55,84.18 269.20,87.94 270.84,92.15 273.36,99.33 276.20,108.19 279.05,117.53 286.71,143.34 290.66,156.38 294.93,170.07 299.09,182.87 303.57,196.02 307.95,208.12 312.22,219.16 316.28,228.86 319.89,236.82 323.39,243.84 325.14,247.08 326.90,250.13 328.65,252.99 330.29,255.49 332.04,257.96 333.68,260.09 335.33,262.04 337.08,263.93 338.72,265.53 340.47,267.04 342.22,268.36 343.97,269.51 346.38,270.80 348.79,271.79 351.31,272.54 353.83,273.01 356.57,273.25 359.41,273.25 362.48,273.00 365.76,272.50 368.39,271.96 371.13,271.29 374.19,270.45 377.59,269.42 383.72,267.40 404.31,260.35 411.75,257.95 418.27,255.97 424.78,254.10 431.30,252.33 437.82,250.68 445.26,248.91 453.64,247.07 462.95,245.19 472.26,243.48 482.50,241.75 492.74,240.18 502.98,238.74 514.15,237.31 526.25,235.90" stroke="rgb(160,160,160)" stroke-width="1.15"/>
<path d="M75.40,176.00 84.75,174.56 94.10,172.99 102.12,171.52 110.14,169.93 118.15,168.19 124.83,166.62 132.85,164.57 139.53,162.70 146.21,160.67 151.55,158.91 158.23,156.53 163.57,154.45 168.92,152.20 174.26,149.77 179.61,147.12 184.95,144.22 188.96,141.88 192.97,139.36 196.97,136.65 200.98,133.74 204.99,130.60 207.66,128.37 211.67,124.80 214.34,122.26 218.35,118.18 221.02,115.28 225.03,110.65 227.70,107.36 230.37,103.92 233.04,100.34 244.45,84.34 246.75,81.34 248.72,79.01 250.04,77.61 251.24,76.48 252.34,75.59 253.43,74.86 254.53,74.31 255.51,73.97 256.61,73.80 257.59,73.84 258.36,74.00 259.12,74.29 259.89,74.70 260.66,75.23 261.42,75.89 262.19,76.68 263.72,78.63 265.25,81.08 266.79,83.98 268.43,87.54 270.18,91.80 272.81,98.90 275.77,107.62 278.83,117.16 286.71,142.35 290.87,155.42 295.36,169.08 299.63,181.55 304.34,194.64 308.94,206.71 313.32,217.47 317.59,227.20 321.31,235.01 323.17,238.67 325.03,242.14 326.90,245.43 328.65,248.36 330.51,251.28 332.26,253.84 334.01,256.23 335.76,258.43 337.52,260.46 339.27,262.31 341.02,263.98 342.88,265.56 344.63,266.88 346.49,268.11 349.12,269.54 351.75,270.64 354.49,271.48 357.44,272.05 360.51,272.34 363.68,272.36 367.08,272.11 370.69,271.59 373.43,271.07 376.38,270.39 379.67,269.55 383.28,268.53 389.41,266.66 410.82,259.85 418.27,257.61 424.78,255.75 431.30,253.99 437.82,252.32 444.33,250.75 450.85,249.26 459.23,247.49 467.61,245.84 476.91,244.15 486.22,242.59 495.53,241.16 505.77,239.71 516.01,238.37 526.25,237.14" stroke="rgb(168,168,168)" stroke-width="1.15"/>
<line x1="75.40" x2="526.25" y1="209.30" y2="209.30" stroke="#FF7800" stroke-width="2.6"/>
<line x1="75.40" x2="526.25" y1="291.26" y2="291.26" stroke="#0000A0" stroke-width="2.6"/>
<path d="M75.40,188.56 88.76,187.31 102.12,185.88 114.14,184.43 124.83,182.97 135.52,181.33 144.87,179.71 154.22,177.88 163.57,175.81 171.59,173.80 179.61,171.53 186.29,169.40 192.97,167.01 199.64,164.32 203.65,162.53 206.32,161.25 211.67,158.48 214.34,156.97 217.01,155.36 219.68,153.66 222.36,151.84 226.36,148.88 230.37,145.60 234.60,141.73 238.43,137.81 242.04,133.67 245.55,129.19 248.83,124.50 251.79,119.81 254.63,114.82 257.37,109.52 260.11,103.70 262.19,98.91 264.27,93.79 266.57,87.80 271.93,73.32 273.36,69.78 274.56,67.10 275.77,64.85 276.86,63.30 277.41,62.74 277.96,62.35 278.50,62.13 278.94,62.09 279.38,62.18 279.82,62.39 280.25,62.75 280.69,63.24 281.46,64.42 282.33,66.30 283.21,68.70 284.09,71.60 284.96,74.95 285.95,79.18 287.37,86.00 288.90,94.01 298.43,147.57 301.49,163.99 304.45,179.13 307.84,195.63 311.24,211.16 314.41,224.75 317.48,236.88 320.11,246.38 322.63,254.61 325.03,261.57 326.24,264.70 327.33,267.32 328.54,269.96 329.63,272.13 330.84,274.28 332.04,276.16 333.25,277.79 334.45,279.18 335.65,280.33 336.86,281.26 338.06,281.97 339.38,282.53 340.69,282.87 342.11,283.03 343.54,282.98 345.07,282.74 346.71,282.30 348.46,281.64 351.42,280.21 355.03,278.10 358.32,275.98 368.83,268.98 375.62,264.75 381.97,261.14 388.48,257.79 392.20,256.03 396.86,253.97 400.58,252.44 405.24,250.66 409.89,249.00 414.55,247.46 419.20,246.02 423.85,244.69 428.51,243.44 434.09,242.04 444.33,239.75 455.50,237.58 467.61,235.54 480.64,233.63 494.60,231.87 509.49,230.24 526.25,228.65" stroke="#28FA00" stroke-width="2.3"/>
<path d="M75.40,167.95 84.75,166.26 92.77,164.69 100.78,163.00 108.80,161.17 116.81,159.19 123.49,157.41 131.51,155.09 138.19,152.99 144.87,150.71 151.55,148.24 158.23,145.55 163.57,143.22 168.92,140.70 174.26,137.99 179.61,135.05 184.95,131.87 188.96,129.29 192.97,126.54 196.97,123.59 200.98,120.44 204.99,117.05 207.66,114.65 211.67,110.82 214.34,108.11 218.35,103.77 221.02,100.70 225.03,95.79 227.70,92.32 230.37,88.70 234.38,82.99 245.88,65.78 248.18,62.59 250.26,59.96 251.57,58.48 252.88,57.17 254.09,56.14 255.29,55.32 256.39,54.75 257.48,54.39 258.58,54.24 259.67,54.32 260.44,54.52 261.20,54.83 261.97,55.27 262.63,55.75 263.39,56.42 264.16,57.21 265.69,59.15 267.23,61.55 268.76,64.37 270.40,67.81 272.15,71.90 274.56,78.07 277.41,85.98 280.91,96.24 289.89,123.18 294.05,135.38 299.41,150.60 304.78,165.18 310.91,181.07 317.15,196.40 320.22,203.62 323.28,210.63 326.24,217.19 329.19,223.54 334.23,233.84 336.75,238.72 339.16,243.20 341.57,247.50 343.87,251.42 346.16,255.14 348.35,258.49 350.54,261.65 352.73,264.60 354.92,267.35 357.00,269.76 359.08,271.97 361.16,273.98 363.24,275.80 365.43,277.50 367.08,278.63 368.72,279.64 370.36,280.53 372.00,281.32 373.65,281.99 375.40,282.60 377.15,283.09 378.90,283.47 380.76,283.77 382.62,283.96 384.48,284.06 386.46,284.06 388.48,283.96 390.34,283.80 392.20,283.56 395.00,283.10 397.79,282.53 400.58,281.85 404.31,280.84 408.03,279.72 414.55,277.59 434.09,270.82 445.26,267.11 457.37,263.38 469.47,259.98 475.98,258.29 482.50,256.68 489.02,255.17 496.46,253.53 503.91,251.99 511.36,250.55 526.25,247.91" stroke="#C8FF00" stroke-width="2.3"/>
<path d="M75.40,207.18 103.46,206.89 127.50,206.56 148.88,206.18 167.58,205.76 183.61,205.28 198.31,204.72 211.67,204.04 222.36,203.33 231.71,202.53 240.73,201.53 248.28,200.42 251.68,199.82 254.85,199.17 257.81,198.48 260.66,197.71 263.28,196.91 265.69,196.07 267.99,195.15 270.07,194.20 272.04,193.17 273.90,192.07 275.55,190.95 277.19,189.69 278.72,188.34 280.14,186.92 281.46,185.41 282.66,183.84 283.87,182.06 284.96,180.20 285.95,178.30 286.93,176.13 287.81,173.94 288.68,171.43 289.45,168.93 290.22,166.07 290.87,163.29 291.53,160.12 292.63,153.76 293.61,146.46 294.49,138.20 295.25,129.03 295.80,121.00 296.35,111.36 297.01,97.27 298.10,70.42 298.32,66.75 298.54,65.06 298.65,65.19 298.76,66.08 298.87,67.74 299.09,73.36 299.30,81.63 301.39,188.95 302.15,222.73 302.81,247.23 303.36,263.41 303.90,274.82 304.12,277.96 304.45,281.24 304.67,282.55 304.78,282.98 305.00,283.42 305.11,283.46 305.22,283.39 305.44,282.97 305.65,282.26 305.98,280.76 308.83,263.25 309.82,258.20 310.91,253.44 312.11,249.09 313.32,245.47 314.74,241.93 316.28,238.80 317.15,237.25 318.14,235.70 319.12,234.30 320.22,232.92 321.31,231.67 322.52,230.44 323.72,229.34 325.03,228.26 326.46,227.22 327.88,226.28 330.95,224.56 334.45,222.97 338.39,221.53 342.88,220.23 347.92,219.05 353.50,218.01 359.74,217.09 366.75,216.25 374.52,215.51 383.28,214.85 393.14,214.25 404.31,213.71 416.41,213.24 430.37,212.81 445.26,212.44 481.57,211.80 526.25,211.29" stroke="#00F564" stroke-width="2.3"/>
</g>
<rect x="66.3" y="27.5" width="469.49999999999994" height="289.8" fill="none" stroke="#000" stroke-width="2.5"/>
<path d="M162.30,317.3 v-11.95 M162.30,27.5 v11.95 M252.40,317.3 v-11.95 M252.40,27.5 v11.95 M342.50,317.3 v-11.95 M342.50,27.5 v11.95 M432.60,317.3 v-11.95 M432.60,27.5 v11.95 M180.32,317.3 v-4.65 M180.32,27.5 v4.65 M198.34,317.3 v-4.65 M198.34,27.5 v4.65 M216.36,317.3 v-4.65 M216.36,27.5 v4.65 M234.38,317.3 v-4.65 M234.38,27.5 v4.65 M270.42,317.3 v-4.65 M270.42,27.5 v4.65 M288.44,317.3 v-4.65 M288.44,27.5 v4.65 M306.46,317.3 v-4.65 M306.46,27.5 v4.65 M324.48,317.3 v-4.65 M324.48,27.5 v4.65 M360.52,317.3 v-4.65 M360.52,27.5 v4.65 M378.54,317.3 v-4.65 M378.54,27.5 v4.65 M396.56,317.3 v-4.65 M396.56,27.5 v4.65 M414.58,317.3 v-4.65 M414.58,27.5 v4.65 M450.62,317.3 v-4.65 M450.62,27.5 v4.65 M468.64,317.3 v-4.65 M468.64,27.5 v4.65 M486.66,317.3 v-4.65 M486.66,27.5 v4.65 M504.68,317.3 v-4.65 M504.68,27.5 v4.65" stroke="#000" stroke-width="2.3" fill="none"/>
<path d="M66.3,315.10 h11.55 M535.8,315.10 h-11.55 M66.3,209.30 h11.55 M535.8,209.30 h-11.55 M66.3,103.50 h11.55 M535.8,103.50 h-11.55" stroke="#000" stroke-width="2.4" fill="none"/>
<path d="M66.3,283.25 h4.3500000000000005 M535.8,283.25 h-4.3500000000000005 M66.3,264.62 h4.3500000000000005 M535.8,264.62 h-4.3500000000000005 M66.3,251.40 h4.3500000000000005 M535.8,251.40 h-4.3500000000000005 M66.3,241.15 h4.3500000000000005 M535.8,241.15 h-4.3500000000000005 M66.3,232.77 h4.3500000000000005 M535.8,232.77 h-4.3500000000000005 M66.3,225.69 h4.3500000000000005 M535.8,225.69 h-4.3500000000000005 M66.3,219.55 h4.3500000000000005 M535.8,219.55 h-4.3500000000000005 M66.3,214.14 h4.3500000000000005 M535.8,214.14 h-4.3500000000000005 M66.3,177.45 h4.3500000000000005 M535.8,177.45 h-4.3500000000000005 M66.3,158.82 h4.3500000000000005 M535.8,158.82 h-4.3500000000000005 M66.3,145.60 h4.3500000000000005 M535.8,145.60 h-4.3500000000000005 M66.3,135.35 h4.3500000000000005 M535.8,135.35 h-4.3500000000000005 M66.3,126.97 h4.3500000000000005 M535.8,126.97 h-4.3500000000000005 M66.3,119.89 h4.3500000000000005 M535.8,119.89 h-4.3500000000000005 M66.3,113.75 h4.3500000000000005 M535.8,113.75 h-4.3500000000000005 M66.3,108.34 h4.3500000000000005 M535.8,108.34 h-4.3500000000000005 M66.3,71.65 h4.3500000000000005 M535.8,71.65 h-4.3500000000000005 M66.3,53.02 h4.3500000000000005 M535.8,53.02 h-4.3500000000000005 M66.3,39.80 h4.3500000000000005 M535.8,39.80 h-4.3500000000000005 M66.3,29.55 h4.3500000000000005 M535.8,29.55 h-4.3500000000000005" stroke="#000" stroke-width="2.0" fill="none"/>
<g font-family="Liberation Sans, sans-serif" font-size="20.8" fill="#000" opacity="0.999">
<text transform="translate(162.1,341.4) scale(1,1.045)" text-anchor="middle">1850</text>
<text transform="translate(252.2,341.4) scale(1,1.045)" text-anchor="middle">1900</text>
<text transform="translate(342.3,341.4) scale(1,1.045)" text-anchor="middle">1950</text>
<text transform="translate(432.4,341.4) scale(1,1.045)" text-anchor="middle">2000</text>
<text transform="translate(61.9,110.1) scale(1,1.045)" text-anchor="end">10</text>
<text transform="translate(61.9,215.9) scale(1,1.045)" text-anchor="end">1</text>
<text transform="translate(61.9,321.7) scale(1,1.045)" text-anchor="end">0.1</text>
<text transform="translate(301.4,373.9) scale(1,1.045)" text-anchor="middle" font-size="20.9">Frequency (Hz)</text>
<text transform="translate(19.3,172.5) rotate(-90) scale(1,1.045)" text-anchor="middle" font-size="20.9">normalised photocurrent PSD</text>
</g>
</g>
</svg>
</body></html>
